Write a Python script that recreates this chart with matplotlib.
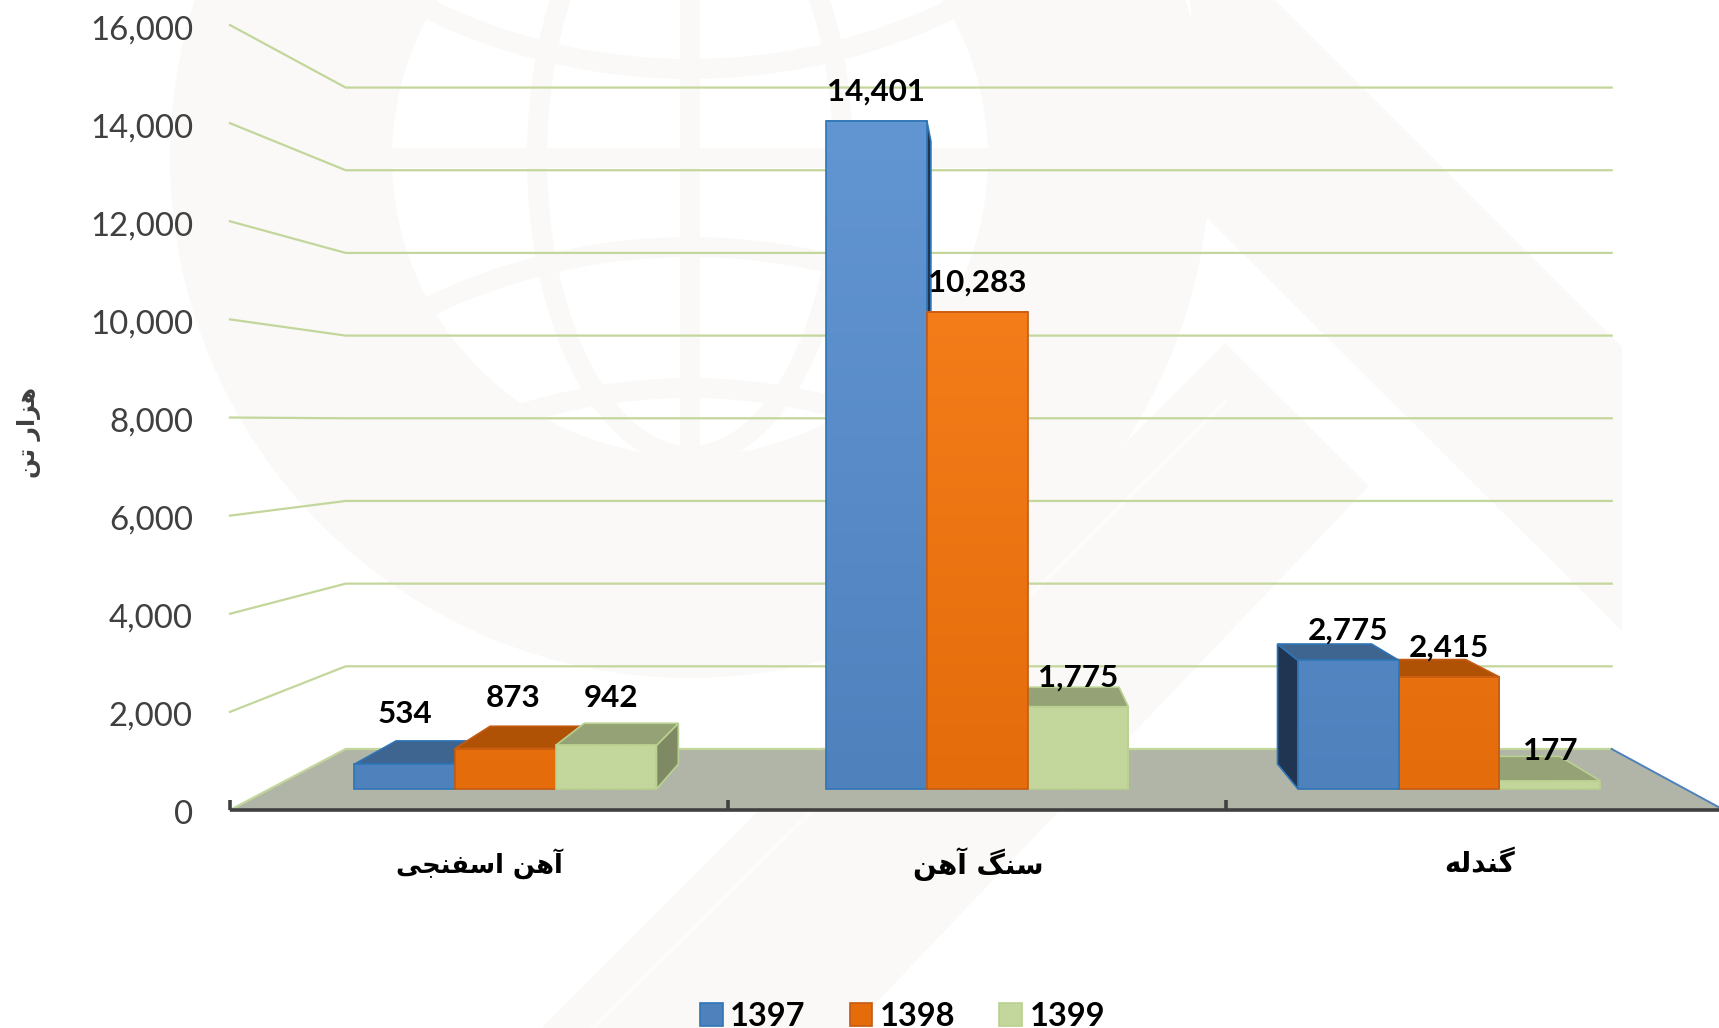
import numpy as np
import matplotlib
matplotlib.use('Agg')
import matplotlib.pyplot as plt
from matplotlib.patches import Polygon, Circle, Wedge, Ellipse, Patch
from matplotlib.colors import to_rgb

# ---- data ----
CATEGORIES = ['\uFE81\uFEEB\uFEE6 \uFE8D\uFEB3\uFED4\uFEE8\uFEA0\uFBFD'[::-1],
              '\uFEB3\uFEE8\uFB93 \uFE81\uFEEB\uFEE6'[::-1],
              '\uFB94\uFEE8\uFEAA\uFEDF\uFEEA'[::-1]]
YEARS = ['1397', '1398', '1399']
VALUES_1397 = [534, 14401, 2775]
VALUES_1398 = [873, 10283, 2415]
VALUES_1399 = [942, 1775, 177]
Y_TICKS = [0, 2000, 4000, 6000, 8000, 10000, 12000, 14000, 16000]
Y_TITLE = '\uFEEB\uFEB0\uFE8D\uFEAD \uFE97\uFEE6'[::-1]

# ---- styles: front low, front high, top, side, edge ----
STYLES = [('#4F81BD', '#6296D3', '#3E6490', '#1F3552', '#2E75B6'),
          ('#E46C0A', '#FA821F', '#AF5206', '#8F4407', '#C55A11'),
          ('#C3D69B', '#C3D69B', '#95A275', '#7F8A64', '#B9D190')]
GRID = '#C3D69B'
MARK = '#FAF9F8'
TEXT = '#404040'

# perspective of the chart box, in picture pixels
VP_X = 988
X_LEFT, CAT_W = 230, 498
Y_FRONT, Y_BACK = 810, 749
K_FRONT, K_BACK = 0.04906, 0.04134
X_BACK_RATIO = 0.8474
BAR_FRONT, BAR_BACK = 0.344, 0.754
BAR_W, BAR_START = 0.2135, 0.179
EYE_VALUE = 8000
CAT_SIZES = [18.5, 20, 20]
CAT_SHIFT = [0, 1, 5]
# label shifts in pixels (first group sits higher in the original)
NUDGE_X = [[0, 8, 5], [0, 0, 0], [0, 0, 0]]
NUDGE_Y = [[21, 21, 18], [0, 0, 0], [0, 0, 0]]


def proj(cat, val, depth):
    k = K_FRONT + (K_BACK - K_FRONT) * depth
    ratio = 1 - (1 - X_BACK_RATIO) * depth
    x = VP_X + (X_LEFT + cat * CAT_W - VP_X) * ratio
    y = Y_FRONT + (Y_BACK - Y_FRONT) * depth - k * val
    return x, y


fig = plt.figure(figsize=(17.19, 10.28), dpi=100)
ax = fig.add_axes([0, 0, 1, 1])
ax.set_xlim(0, 1719)
ax.set_ylim(1028, 0)
ax.axis('off')


def watermark():
    cx, cy = 690, 158
    ax.add_patch(Wedge((cx, cy), 520, 0, 360, width=222, fc=MARK, ec='none', zorder=0))
    inner = Circle((cx, cy), 300, transform=ax.transData)
    shapes = [Wedge((cx, 849), 612, 0, 360, width=20, fc=MARK, ec='none'),
              Wedge((cx, -533), 612, 0, 360, width=20, fc=MARK, ec='none'),
              Wedge((cx, 953), 575, 0, 360, width=20, fc=MARK, ec='none'),
              Wedge((cx, -637), 575, 0, 360, width=20, fc=MARK, ec='none'),
              Ellipse((cx, cy), 306, 596, fc='none', ec=MARK, lw=14.4),
              Polygon([(680, -10), (700, -10), (700, 460), (680, 460)], fc=MARK, ec='none'),
              Polygon([(385, 148), (995, 148), (995, 168), (385, 168)], fc=MARK, ec='none')]
    for s in shapes:
        s.set_zorder(0)
        ax.add_patch(s)
        s.set_clip_path(inner)
    # diagonal bands
    ax.add_patch(Polygon([(1190, 0), (1275, 0), (1622, 347), (1622, 631), (1206, 217)],
                         fc=MARK, ec='none', zorder=0))
    ax.add_patch(Polygon([(1225, 343), (1369, 486), (852, 1028), (542, 1028)],
                         fc=MARK, ec='none', zorder=0))
    ax.plot([1225, 593], [402, 1028], color='#FDFCFB', lw=3, zorder=0)


def draw_bar(cat, series, val):
    low, high, top, side, edge = STYLES[series]
    x0 = cat + BAR_START + series * BAR_W
    x1 = x0 + BAR_W
    z = 5 + 0.001 * (1000 - abs(proj(x0 + BAR_W / 2, 0, BAR_FRONT)[0] - VP_X))

    # side wall facing the vanishing point
    if proj(x1, 0, BAR_FRONT)[0] < VP_X:
        xe = x1
    elif proj(x0, 0, BAR_FRONT)[0] > VP_X:
        xe = x0
    else:
        xe = None
    if xe is not None:
        pts = [proj(xe, 0, BAR_FRONT), proj(xe, 0, BAR_BACK), proj(xe, val, BAR_BACK), proj(xe, val, BAR_FRONT)]
        ax.add_patch(Polygon(pts, fc=side, ec=edge, lw=1.2, zorder=z))
    if val < EYE_VALUE:
        pts = [proj(x0, val, BAR_FRONT), proj(x1, val, BAR_FRONT), proj(x1, val, BAR_BACK), proj(x0, val, BAR_BACK)]
        ax.add_patch(Polygon(pts, fc=top, ec=edge, lw=1.2, zorder=z))

    # front face with the height gradient
    pts = [proj(x0, 0, BAR_FRONT), proj(x1, 0, BAR_FRONT), proj(x1, val, BAR_FRONT), proj(x0, val, BAR_FRONT)]
    c0, c1 = np.array(to_rgb(low)), np.array(to_rgb(high))
    c1 = c0 + (c1 - c0) * val / max(VALUES_1397)
    grad = np.linspace(c1, c0, 64).reshape(64, 1, 3)
    ax.imshow(grad, extent=(pts[0][0], pts[1][0], pts[0][1], pts[2][1]), aspect='auto',
              interpolation='bilinear', zorder=z)
    ax.add_patch(Polygon(pts, fc='none', ec=edge, lw=1.2, zorder=z))


watermark()

# floor
floor = [proj(0, 0, 0), proj(3, 0, 0), proj(3, 0, 1), proj(0, 0, 1)]
ax.add_patch(Polygon(floor, fc='#B1B5A7', ec='none', zorder=1))

# gridlines on the side wall and back wall
for t in Y_TICKS:
    pts = [proj(0, t, 0), proj(0, t, 1), proj(3, t, 1)]
    ax.plot([p[0] for p in pts], [p[1] for p in pts], color=GRID, lw=1.6, zorder=2)
    x, y = proj(0, t, 0)
    ax.text(193, y + 2, f'{t:,}', ha='right', va='center_baseline', fontsize=23.8,
            family='Lato', color=TEXT)
p0, p1 = proj(3, 0, 1), proj(3, 0, 0)
ax.plot([p0[0], p1[0]], [p0[1], p1[1]], color='#4F81BD', lw=1.4, zorder=2)

# bars
all_values = [VALUES_1397, VALUES_1398, VALUES_1399]
for c in range(len(CATEGORIES)):
    for s in range(len(YEARS)):
        val = all_values[s][c]
        draw_bar(c, s, val)
        x, y = proj(c + BAR_START + (s + 0.5) * BAR_W, val, BAR_FRONT)
        ax.text(x + NUDGE_X[c][s], y - 32 - NUDGE_Y[c][s], f'{val:,}', ha='center', va='center_baseline',
                fontsize=22.6, family='Lato', fontweight='bold', color='black', zorder=20)

# category axis
xa, ya = proj(0, 0, 0)
xb, yb = proj(3, 0, 0)
ax.plot([xa, xb], [ya, yb], color=TEXT, lw=2.6, zorder=3, solid_capstyle='butt')
for i in range(3):
    x, y = proj(i, 0, 0)
    x2, y2 = proj(i, 210, 0)
    ax.plot([x, x2], [y, y2], color=TEXT, lw=2.6, zorder=3, solid_capstyle='butt')
    xm, _ = proj(i + 0.5, 0, 0)
    ax.text(xm + CAT_SHIFT[i], 864, CATEGORIES[i], ha='center', va='center', fontsize=CAT_SIZES[i],
            family='DejaVu Sans', fontweight='bold', color='black')

ax.text(29, 432, Y_TITLE, rotation=90, ha='center', va='center', fontsize=17,
        family='DejaVu Sans', fontweight='bold', color=TEXT)

handles = [Patch(fc=STYLES[i][0], ec=STYLES[i][4], lw=1.2, label=YEARS[i]) for i in range(3)]
ax.legend(handles=handles, ncol=3, loc='lower left', bbox_to_anchor=(700 / 1719, -0.003), frameon=False,
          prop={'family': 'Lato', 'weight': 'bold', 'size': 23.4}, borderpad=0, borderaxespad=0,
          handlelength=0.70, handleheight=0.70, handletextpad=0.23, columnspacing=1.35)

ax.set_xlim(0, 1719)
ax.set_ylim(1028, 0)
fig.savefig('out.png', dpi=100)
